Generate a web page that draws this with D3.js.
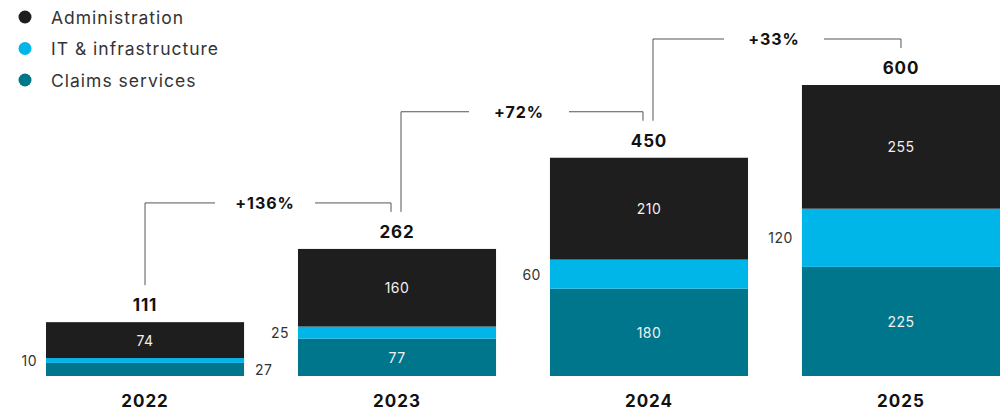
<!DOCTYPE html>
<html><head><meta charset="utf-8">
<script src="https://cdn.jsdelivr.net/npm/d3@7"></script>
<style>body{margin:0;background:#fff}svg{display:block}</style>
</head><body>
<svg id="c" width="1003" height="410"></svg>
<script>
const years = ["2022","2023","2024","2025"];
const seriesNames = ["Claims services","IT & infrastructure","Administration"];
const claims = [27,77,180,225];
const it = [10,25,60,120];
const admin = [74,160,210,255];
const totals = [111,262,450,600];
const growth = ["+136%","+72%","+33%"];
const legendOrder = ["Administration","IT & infrastructure","Claims services"];

const colors = {"Administration":"#1e1e1e","IT & infrastructure":"#00b5e8","Claims services":"#00768c"};
const font = "Inter, 'Noto Sans', sans-serif";
const svg = d3.select("#c");

const x = d3.scaleBand().domain(years).range([46,1000]).paddingInner(0.214).paddingOuter(0);
const y = d3.scaleLinear().domain([0,600]).range([376,85]);

const rows = years.map((yr,i)=>({year:yr,"Claims services":claims[i],"IT & infrastructure":it[i],"Administration":admin[i]}));
const stack = d3.stack().keys(seriesNames)(rows);

stack.forEach(layer=>{
  const g = svg.append("g");
  g.selectAll("rect").data(layer).join("rect")
    .attr("x",d=>x(d.data.year)).attr("width",x.bandwidth())
    .attr("y",d=>y(d[1])).attr("height",d=>y(d[0])-y(d[1]))
    .attr("fill",colors[layer.key]);
  g.selectAll("text").data(layer).join("text")
    .attr("font-family",font).attr("font-size",14).attr("letter-spacing",0.5)
    .attr("dominant-baseline","central")
    .each(function(d,i){
      const v = d[1]-d[0];
      const s = d3.select(this).text(v);
      const cy = (y(d[0])+y(d[1]))/2;
      if(layer.key==="IT & infrastructure"){
        s.attr("x",x(d.data.year)-9).attr("y",cy).attr("text-anchor","end").attr("fill","#333");
      } else if(y(d[0])-y(d[1])<20){
        s.attr("x",x(d.data.year)+x.bandwidth()+11).attr("y",cy).attr("text-anchor","start").attr("fill","#333");
      } else {
        s.attr("x",x(d.data.year)+x.bandwidth()/2).attr("y",cy).attr("text-anchor","middle").attr("fill","#f0f0f0");
      }
    });
});

// totals
svg.append("g").selectAll("text").data(years).join("text")
  .attr("x",d=>x(d)+x.bandwidth()/2).attr("y",(d,i)=>y(totals[i])-11)
  .attr("text-anchor","middle").attr("font-family",font).attr("font-weight",700)
  .attr("font-size",17).attr("letter-spacing",0.8).attr("fill","#111").text((d,i)=>totals[i]);

// year labels
svg.append("g").selectAll("text").data(years).join("text")
  .attr("x",d=>x(d)+x.bandwidth()/2).attr("y",407)
  .attr("text-anchor","middle").attr("font-family",font).attr("font-weight",700)
  .attr("font-size",17).attr("letter-spacing",1).attr("fill","#111").text(d=>d);

// connectors
const cg = svg.append("g");
growth.forEach((lab,i)=>{
  const a = years[i], b = years[i+1];
  const cA = x(a)+x.bandwidth()/2 + (i>0?4:0);
  const cB = x(b)+x.bandwidth()/2 - (i+1<years.length-1?6:0);
  const botA = y(totals[i])-37, botB = y(totals[i+1])-37;
  const hy = botB-9;
  const mid = (cA+cB)/2 - 3;
  const gap = 50;
  cg.append("path")
    .attr("d",`M${cA},${botA}V${hy}H${mid-gap}M${mid+gap},${hy}H${cB}V${botB}`)
    .attr("fill","none").attr("stroke","#555").attr("stroke-width",1);
  cg.append("text").attr("x",mid).attr("y",hy).attr("dominant-baseline","central")
    .attr("text-anchor","middle").attr("font-family",font).attr("font-weight",700)
    .attr("font-size",16).attr("letter-spacing",1).attr("fill","#111").text(lab);
});

// legend
const lg = svg.append("g");
legendOrder.forEach((k,i)=>{
  const yy = 17 + i*31.5;
  lg.append("circle").attr("cx",25).attr("cy",yy).attr("r",6.5).attr("fill",colors[k]);
  lg.append("text").attr("x",51).attr("y",yy).attr("dominant-baseline","central")
    .attr("font-family",font).attr("font-size",17.5).attr("letter-spacing",1).attr("fill","#333").text(k);
});
</script>
</body></html>
